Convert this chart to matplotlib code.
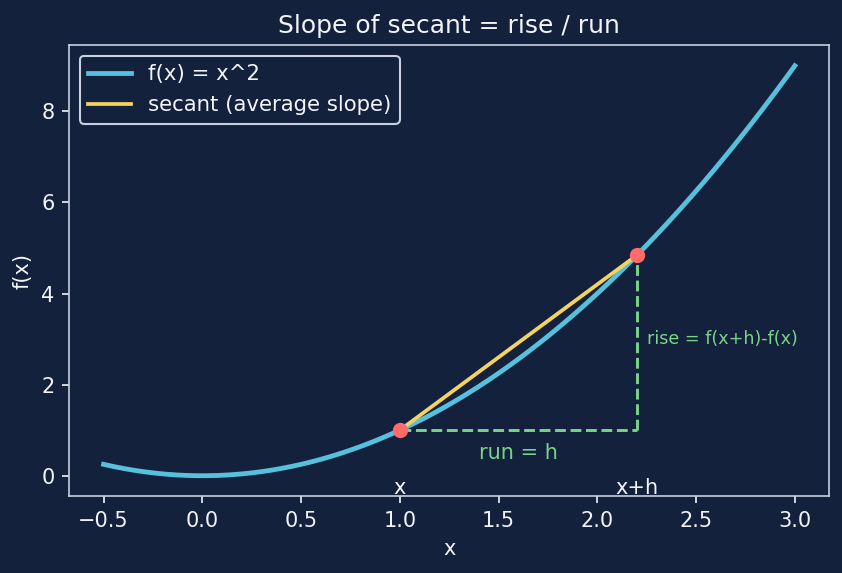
import numpy as np
import matplotlib

matplotlib.use("Agg")
import matplotlib.pyplot as plt

# data
x_range = [-0.5, 3.0]
x0 = 1.0
h = 1.2
x1 = x0 + h

BG = "#14213d"
FG = "#f2f4f8"
CURVE = "#56c1dc"
SECANT = "#f4d35e"
POINT = "#ff6b6b"
GUIDE = "#7bd389"


def f(v):
    return v ** 2


xs = np.linspace(x_range[0], x_range[1], 400)

fig, ax = plt.subplots(figsize=(842 / 150, 573 / 150), dpi=150)
fig.patch.set_facecolor(BG)
ax.set_facecolor(BG)

ax.plot(xs, f(xs), color=CURVE, lw=2.3, label="f(x) = x^2")
ax.plot([x0, x1], [f(x0), f(x1)], color=SECANT, lw=1.8, label="secant (average slope)")
ax.scatter([x0, x1], [f(x0), f(x1)], color=POINT, s=40, zorder=5)

ax.plot([x0, x1], [f(x0), f(x0)], color=GUIDE, ls="--", lw=1.4)
ax.plot([x1, x1], [f(x0), f(x1)], color=GUIDE, ls="--", lw=1.4)

ax.text((x0 + x1) / 2, f(x0) - 0.5, "run = h", color=GUIDE, ha="center", va="center", fontsize=10)
ax.text(x1 + 0.05, 3.0, "rise = f(x+h)-f(x)", color=GUIDE, va="center", fontsize=8.4)
ax.text(x0, -0.4, "x", color=FG, ha="center", fontsize=10)
ax.text(x1, -0.4, "x+h", color=FG, ha="center", fontsize=10)

ax.set_title("Slope of secant = rise / run", color=FG, fontsize=12)
ax.set_xlabel("x", color=FG)
ax.set_ylabel("f(x)", color=FG)
ax.tick_params(colors=FG)
for spine in ax.spines.values():
    spine.set_color("#c8cfe0")

leg = ax.legend(loc="upper left", facecolor=BG, edgecolor="#c8cfe0", labelcolor=FG, fontsize=10.2)
leg.get_frame().set_alpha(1)

fig.subplots_adjust(left=0.082, right=0.985, top=0.921, bottom=0.134)
fig.savefig("out.png", dpi=150, facecolor=BG)
